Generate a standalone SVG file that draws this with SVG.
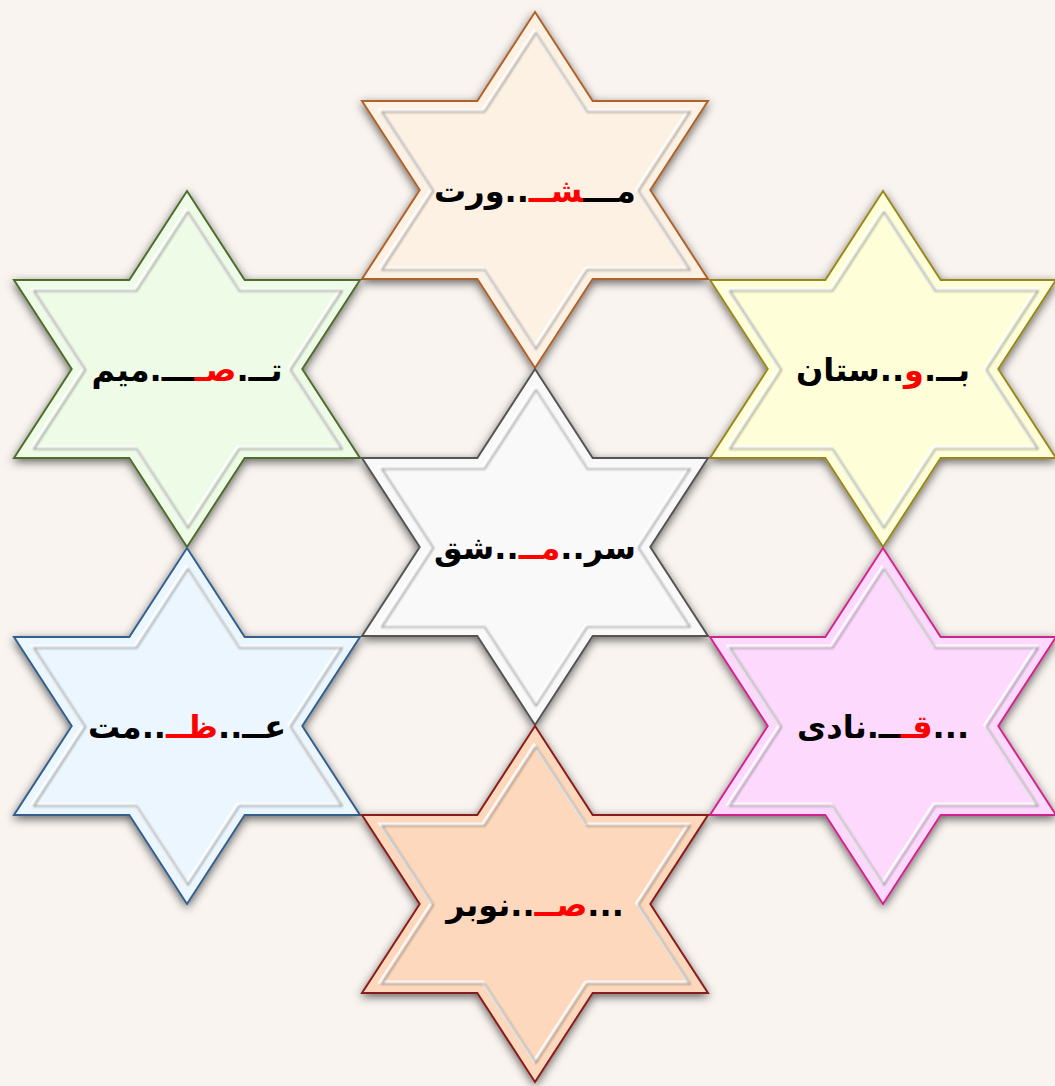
<svg xmlns="http://www.w3.org/2000/svg" xmlns:xlink="http://www.w3.org/1999/xlink" width="1055" height="1086" viewBox="0 0 1055 1086">
<style>
.lbl{font-family:"DejaVu Sans","Noto Sans",sans-serif;font-weight:bold;font-size:32px;fill:#000;text-anchor:middle;direction:rtl}
.r{fill:#ff0000}
.outer{stroke-width:2}
.hl{fill:none;stroke:#ffffff;stroke-width:3;opacity:0.85}
.gr{fill:none;stroke:#6a6a6a;stroke-width:1.2;opacity:0.85}
</style>
<defs>
<path id="star" d="M0,-178 L57.7,-89 L173,-89 L115.3,0 L173,89 L57.7,89 L0,178 L-57.7,89 L-173,89 L-115.3,0 L-173,-89 L-57.7,-89 Z"/>
<path id="inner" d="M0,-158 L51.4,-79 L154,-79 L102.6,0 L154,79 L51.4,79 L0,158 L-51.4,79 L-154,79 L-102.6,0 L-154,-79 L-51.4,-79 Z"/>
<filter id="sh" x="-20%" y="-20%" width="140%" height="140%">
<feDropShadow dx="0" dy="3" stdDeviation="5" flood-color="#000" flood-opacity="0.6"/>
</filter>
<filter id="bl" x="-10%" y="-10%" width="120%" height="120%">
<feGaussianBlur stdDeviation="0.8"/>
</filter>
</defs>
<rect width="1055" height="1086" fill="#f9f4f0"/>

<g id="star-top" transform="translate(535,190)">
<use xlink:href="#star" class="outer" fill="#fdf1e3" stroke="#b0622a" filter="url(#sh)"/>
<use xlink:href="#inner" class="hl" transform="translate(-1,-1)"/>
<use xlink:href="#inner" class="gr" filter="url(#bl)" transform="translate(1,1)"/>
<text class="lbl" x="0" y="12">مـــ<tspan class="r">شــ</tspan>..ورت</text>
</g>

<g id="star-left-top" transform="translate(187,369)">
<use xlink:href="#star" class="outer" fill="#eefbe6" stroke="#4e6e2e" filter="url(#sh)"/>
<use xlink:href="#inner" class="hl" transform="translate(-1,-1)"/>
<use xlink:href="#inner" class="gr" filter="url(#bl)" transform="translate(1,1)"/>
<text class="lbl" x="0" y="12">تــ.<tspan class="r">صـ</tspan>ـــ.میم</text>
</g>

<g id="star-right-top" transform="translate(883,369)">
<use xlink:href="#star" class="outer" fill="#fefed8" stroke="#9a881e" filter="url(#sh)"/>
<use xlink:href="#inner" class="hl" transform="translate(-1,-1)"/>
<use xlink:href="#inner" class="gr" filter="url(#bl)" transform="translate(1,1)"/>
<text class="lbl" x="0" y="12">بــ.<tspan class="r">و</tspan>..ستان</text>
</g>

<g id="star-center" transform="translate(535,547)">
<use xlink:href="#star" class="outer" fill="#f9f9f9" stroke="#555555" filter="url(#sh)"/>
<use xlink:href="#inner" class="hl" transform="translate(-1,-1)"/>
<use xlink:href="#inner" class="gr" filter="url(#bl)" transform="translate(1,1)"/>
<text class="lbl" x="0" y="12">سر..<tspan class="r">مــ</tspan>..شق</text>
</g>

<g id="star-left-bottom" transform="translate(187,726)">
<use xlink:href="#star" class="outer" fill="#ebf6fe" stroke="#35608e" filter="url(#sh)"/>
<use xlink:href="#inner" class="hl" transform="translate(-1,-1)"/>
<use xlink:href="#inner" class="gr" filter="url(#bl)" transform="translate(1,1)"/>
<text class="lbl" x="0" y="12">عــ..<tspan class="r">ظــ</tspan>..مت</text>
</g>

<g id="star-right-bottom" transform="translate(883,726)">
<use xlink:href="#star" class="outer" fill="#fed9fe" stroke="#d0288c" filter="url(#sh)"/>
<use xlink:href="#inner" class="hl" transform="translate(-1,-1)"/>
<use xlink:href="#inner" class="gr" filter="url(#bl)" transform="translate(1,1)"/>
<text class="lbl" x="0" y="12">...<tspan class="r">قـ</tspan>ــ.نادی</text>
</g>

<g id="star-bottom" transform="translate(535,904)">
<use xlink:href="#star" class="outer" fill="#fdd8bc" stroke="#8a1c1c" filter="url(#sh)"/>
<use xlink:href="#inner" class="hl" transform="translate(-1,-1)"/>
<use xlink:href="#inner" class="gr" filter="url(#bl)" transform="translate(1,1)"/>
<text class="lbl" x="0" y="12">...<tspan class="r">صــ</tspan>..نوبر</text>
</g>

<g id="connectors"/>
</svg>
